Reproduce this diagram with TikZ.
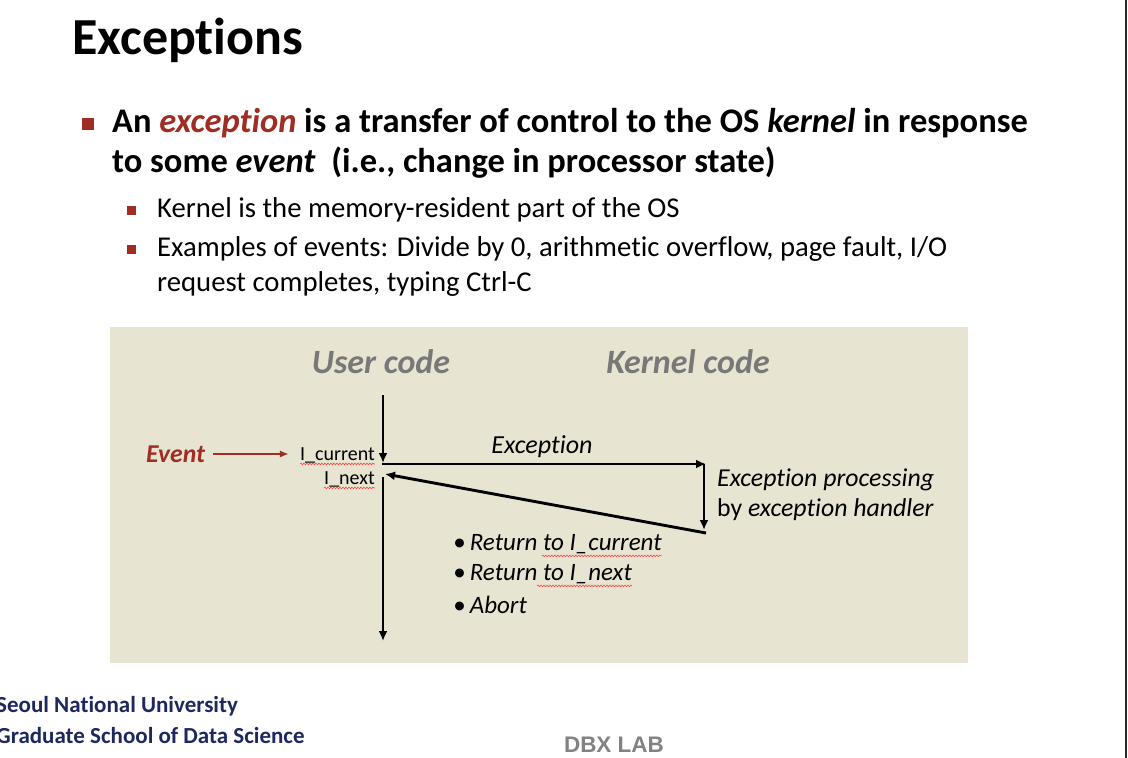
\documentclass[tikz,border=0pt]{standalone}
\usepackage{fontspec}
\setmainfont{Carlito}[Ligatures=NoCommon]
\newfontfamily\arialfont{Liberation Sans}
\usetikzlibrary{arrows.meta,decorations.pathmorphing,calc}
\definecolor{slidered}{RGB}{160,45,35}
\definecolor{boxbg}{RGB}{232,228,210}
\definecolor{headgray}{RGB}{120,120,120}
\definecolor{navy}{RGB}{30,40,95}
\definecolor{dbxgray}{RGB}{130,130,130}
\tikzset{
  flow/.style={line width=2.9pt,-{Latex[length=10pt,width=9pt]}},
  squig/.style={draw=red!75,line width=0.6pt,decorate,decoration={snake,amplitude=0.8pt,segment length=3pt}},
  txt/.style={inner sep=0pt,anchor=west},
  sqbullet/.style={fill=slidered,inner sep=0pt},
}
\begin{document}
\begin{tikzpicture}[x=1pt,y=-1pt]
\useasboundingbox (0,0) rectangle (1128,758);
\fill[white] (0,0) rectangle (1128,758);
\draw[line width=2.5pt,black!85] (1126,0) -- (1126,758);
% title
\node[txt,font=\fontsize{52}{58}\selectfont\bfseries] (title) at (72,40) {Exceptions};
% main bullet
\node[sqbullet,minimum size=12pt] (b1) at (88,124) {};
\node[txt,font=\fontsize{34.5}{40}\selectfont\bfseries] (l1) at (112,123) {An \textcolor{slidered}{\textit{exception}} is a transfer of control to the OS \textit{kernel} in response};
\node[txt,font=\fontsize{34.5}{40}\selectfont\bfseries] (l2) at (112,163) {to some \textit{event}\ \ (i.e., change in processor state)};
% sub bullets
\node[sqbullet,minimum size=9pt] (b2) at (131,210) {};
\node[txt,font=\fontsize{28.7}{33}\selectfont] (s1) at (157,210) {Kernel is the memory-resident part of the OS};
\node[sqbullet,minimum size=9pt] (b3) at (131,249) {};
\node[txt,font=\fontsize{28.7}{33}\selectfont] (s2) at (157,249) {Examples of events: Divide by 0, arithmetic overflow, page fault, I/O};
\node[txt,font=\fontsize{28.7}{33}\selectfont] (s3) at (157,284) {request completes, typing Ctrl-C};
% diagram box
\fill[boxbg] (110,327) rectangle (968,663);
\node[font=\fontsize{34}{38}\selectfont\bfseries\itshape,text=headgray,inner sep=0pt] (user) at (381,362) {User code};
\node[font=\fontsize{34}{38}\selectfont\bfseries\itshape,text=headgray,inner sep=0pt] (kern) at (688,362) {Kernel code};
\node[txt,font=\fontsize{25.7}{30}\selectfont\bfseries\itshape,text=slidered] (event) at (146,454) {Event};
\node[inner sep=0pt,anchor=east,font=\fontsize{20}{22}\selectfont] (icur) at (375,455) {I\_current};
\node[inner sep=0pt,anchor=east,font=\fontsize{20}{22}\selectfont] (inext) at (375,479) {I\_next};
\draw[slidered,line width=2.2pt,-{Latex[length=9pt,width=7pt]}] ($(event.east)+(8,0)$) -- ($(icur.west)+(-11,-1)$);
\coordinate (top) at (383,395);
\coordinate (cur) at (383,463);
\coordinate (hs) at (381.5,464);
\coordinate (he) at (706,464);
\coordinate (pe) at (704,530);
\coordinate (ds) at (706,533);
\coordinate (nx) at (385,474);
\coordinate (vs) at (383,477);
\coordinate (bot) at (383,641);
\draw[flow] (top) -- (cur);
\draw[flow] (hs) -- (he);
\draw[flow] (704,464) -- (pe);
\draw[flow] (ds) -- (nx);
\draw[flow] (vs) -- (bot);
\node[inner sep=0pt,font=\fontsize{26}{30}\selectfont\itshape] (exc) at (542,447) {Exception};
\node[txt,font=\fontsize{25.8}{30}\selectfont\itshape] (proc1) at (717,480) {Exception processing};
\node[txt,font=\fontsize{25.8}{30}\selectfont] (proc2) at (717,510) {by \textit{exception handler}};
\node[txt,font=\fontsize{25}{29}\selectfont\itshape] (r1) at (453,544) {\textbullet\,Return to I\_current};
\node[txt,font=\fontsize{25}{29}\selectfont\itshape] (r2) at (453,574) {\textbullet\,Return to I\_next};
\node[txt,font=\fontsize{25}{29}\selectfont\itshape] (r3) at (453,605) {\textbullet\,Abort};
% spell-check squiggles
\draw[squig] ($(icur.south west)+(0,1)$) -- ($(icur.south east)+(0,1)$);
\draw[squig] ($(inext.south west)+(0,1)$) -- ($(inext.south east)+(0,1)$);
\draw[squig] ($(r1.south east)+(-120,2)$) -- ($(r1.south east)+(0,2)$);
\draw[squig] ($(r2.south east)+(-95,2)$) -- ($(r2.south east)+(0,2)$);
% footer
\begin{scope}
\clip (0,680) rectangle (700,758);
\node[txt,font=\fontsize{23}{26}\selectfont\bfseries,text=navy] (snu) at (-4,706) {Seoul National University};
\node[txt,font=\fontsize{23}{26}\selectfont\bfseries,text=navy] (gsds) at (-4,736) {Graduate School of Data Science};
\end{scope}
\node[inner sep=0pt,font=\arialfont\fontsize{22.5}{26}\selectfont\bfseries,text=dbxgray] (dbx) at (614,745) {DBX LAB};
\end{tikzpicture}
\end{document}
